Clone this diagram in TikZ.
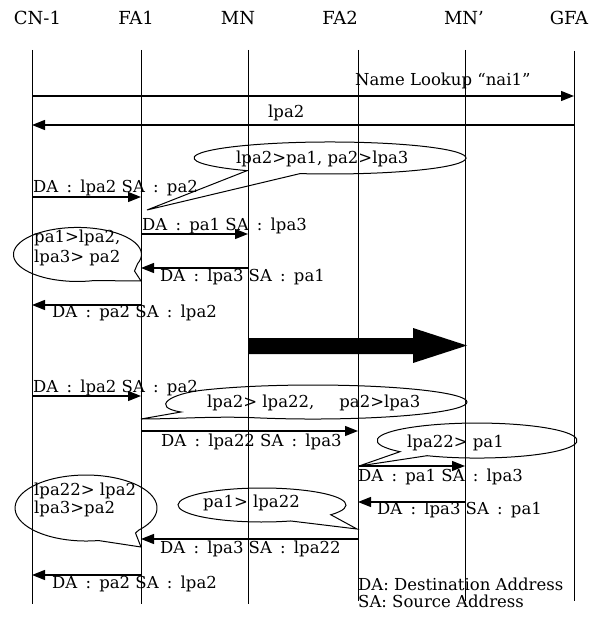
\documentclass[tikz,border=0pt]{standalone}
\usepackage{fontspec}
\setmainfont{DejaVu Serif}
\usetikzlibrary{arrows.meta}
\newcommand\cl{\hspace{0.18em} : \hspace{0.18em}}
\newcommand\msgline[4]{% name, x1, x2, y
  \coordinate (#1s) at (#2,#4);
  \coordinate (#1e) at (#3,#4);
  \draw[msg] (#1s) -- (#1e);}
\tikzset{
  life/.style={line width=1pt},
  msg/.style={line width=1.3pt,-{Triangle[length=13pt,width=10pt]}},
  lbl/.style={anchor=base west, inner sep=0pt, font=\fontsize{16.5}{19}\selectfont},
  hdr/.style={anchor=base, inner sep=0pt, font=\fontsize{18}{21}\selectfont},
  bal/.style={line width=1pt},
}
\begin{document}
\begin{tikzpicture}[x=1pt,y=-1pt]
\useasboundingbox (0,0) rectangle (599,617);
\def\xCN{32}\def\xFA{141}\def\xMN{248}\def\xFB{358}\def\xMP{465}\def\xGF{574}
% headers
\node[hdr] (hCN) at (37.5,25) {CN-1};
\node[hdr] (hFA1) at (136,25) {FA1};
\node[hdr] (hMN) at (238,25) {MN};
\node[hdr] (hFA2) at (340,25) {FA2};
\node[hdr] (hMNp) at (464,25) {MN'};
\node[hdr] (hGFA) at (569,25) {GFA};
% lifelines
\coordinate (CNt) at (\xCN,50);  \coordinate (CNb) at (\xCN,604);
\coordinate (FAt) at (\xFA,50);  \coordinate (FAb) at (\xFA,604);
\coordinate (MNt) at (\xMN,50);  \coordinate (MNb) at (\xMN,604);
\coordinate (FBt) at (\xFB,50);  \coordinate (FBb) at (\xFB,601);
\coordinate (MPt) at (\xMP,50);  \coordinate (MPb) at (\xMP,601);
\coordinate (GFt) at (\xGF,51);  \coordinate (GFb) at (\xGF,601);
\foreach \n in {CN,FA,MN,FB,MP,GF} \draw[life] (\n t) -- (\n b);
% messages
\msgline{m1}{\xCN}{\xGF}{96}
\msgline{m2}{\xGF}{\xCN}{125}
\msgline{m3}{\xCN}{\xFA}{197}
\msgline{m4}{\xFA}{\xMN}{234}
\msgline{m5}{\xMN}{\xFA}{268}
\msgline{m6}{\xFA}{\xCN}{305}
\msgline{m7}{\xCN}{\xFA}{396}
\msgline{m8}{\xFA}{\xFB}{431}
\msgline{m9}{\xFB}{\xMP}{466}
\msgline{m10}{\xMP}{\xFB}{502}
\msgline{m11}{\xFB}{\xFA}{539}
\msgline{m12}{\xFA}{\xCN}{575}
% labels
\node[lbl] (t1) at (355,86) {Name Lookup “nai1”};
\node[lbl] (t2) at (268,118) {lpa2};
\node[lbl] (t3) at (33,193) {DA\cl lpa2 SA\cl pa2};
\node[lbl] (t4) at (142,230) {DA\cl pa1 SA\cl lpa3};
\node[lbl] (t5) at (160,281) {DA\cl lpa3 SA\cl pa1};
\node[lbl] (t6) at (52,317) {DA\cl pa2 SA\cl lpa2};
\node[lbl] (t7) at (33,392) {DA\cl lpa2 SA\cl pa2};
\node[lbl] (t8) at (161,446) {DA\cl lpa22 SA\cl lpa3};
\node[lbl] (t9) at (358,481) {DA\cl pa1 SA\cl lpa3};
\node[lbl] (t10) at (377,514) {DA\cl lpa3 SA\cl pa1};
\node[lbl] (t11) at (160,553) {DA\cl lpa3 SA\cl lpa22};
\node[lbl] (t12) at (52,588) {DA\cl pa2 SA\cl lpa2};
\node[lbl] (lg1) at (358,590) {DA: Destination Address};
\node[lbl] (lg2) at (358,607) {SA: Source Address};
% big arrow
\fill (\xMN,338) -- (413,338) -- (413,328) -- (467,345.5) -- (413,363) -- (413,354) -- (\xMN,354) -- cycle;
% balloons
\draw[bal] (300.1,173.6) arc[start angle=102.7, end angle=-232.4, x radius=136, y radius=16] -- (147,210) -- cycle;
\node[lbl] (b1) at (236,164) {lpa2>pa1, pa2>lpa3};
\draw[bal] (137.6,263.7) arc[start angle=20, end angle=-285, x radius=64, y radius=27] -- (141,281) -- (134.5,271) -- cycle;
\node[lbl] (b2a) at (34,243) {pa1>lpa2,};
\node[lbl] (b2b) at (34,262) {lpa3> pa2};
\draw[bal] (204.1,390.0) arc[start angle=-135, end angle=112, x radius=154, y radius=17]
  .. controls (215,416) and (175,419) .. (141,419) -- (181,412)
  .. controls (150,407) and (170,393.5) .. (204.1,390.0) -- cycle;
\node[lbl] (b3) at (207,407) {lpa2> lpa22,\hspace{1.2em} pa2>lpa3};
\draw[bal] (400,451.7) arc[start angle=140.4, end angle=480, x radius=100, y radius=17.5] -- (359,466) -- cycle;
\node[lbl] (b4) at (407,447) {lpa22> pa1};
\draw[bal] (330.8,514.75) arc[start angle=35, end angle=-290, x radius=84, y radius=17] -- (357,529) -- cycle;
\node[lbl] (b5) at (203,507) {pa1> lpa22};
\draw[bal] (138.8,530.1) arc[start angle=42, end angle=-280, x radius=71, y radius=33] -- (141,547) -- (135.5,533) -- cycle;
\node[lbl] (b6a) at (34,495) {lpa22> lpa2};
\node[lbl] (b6b) at (34,513) {lpa3>pa2};
\end{tikzpicture}
\end{document}
